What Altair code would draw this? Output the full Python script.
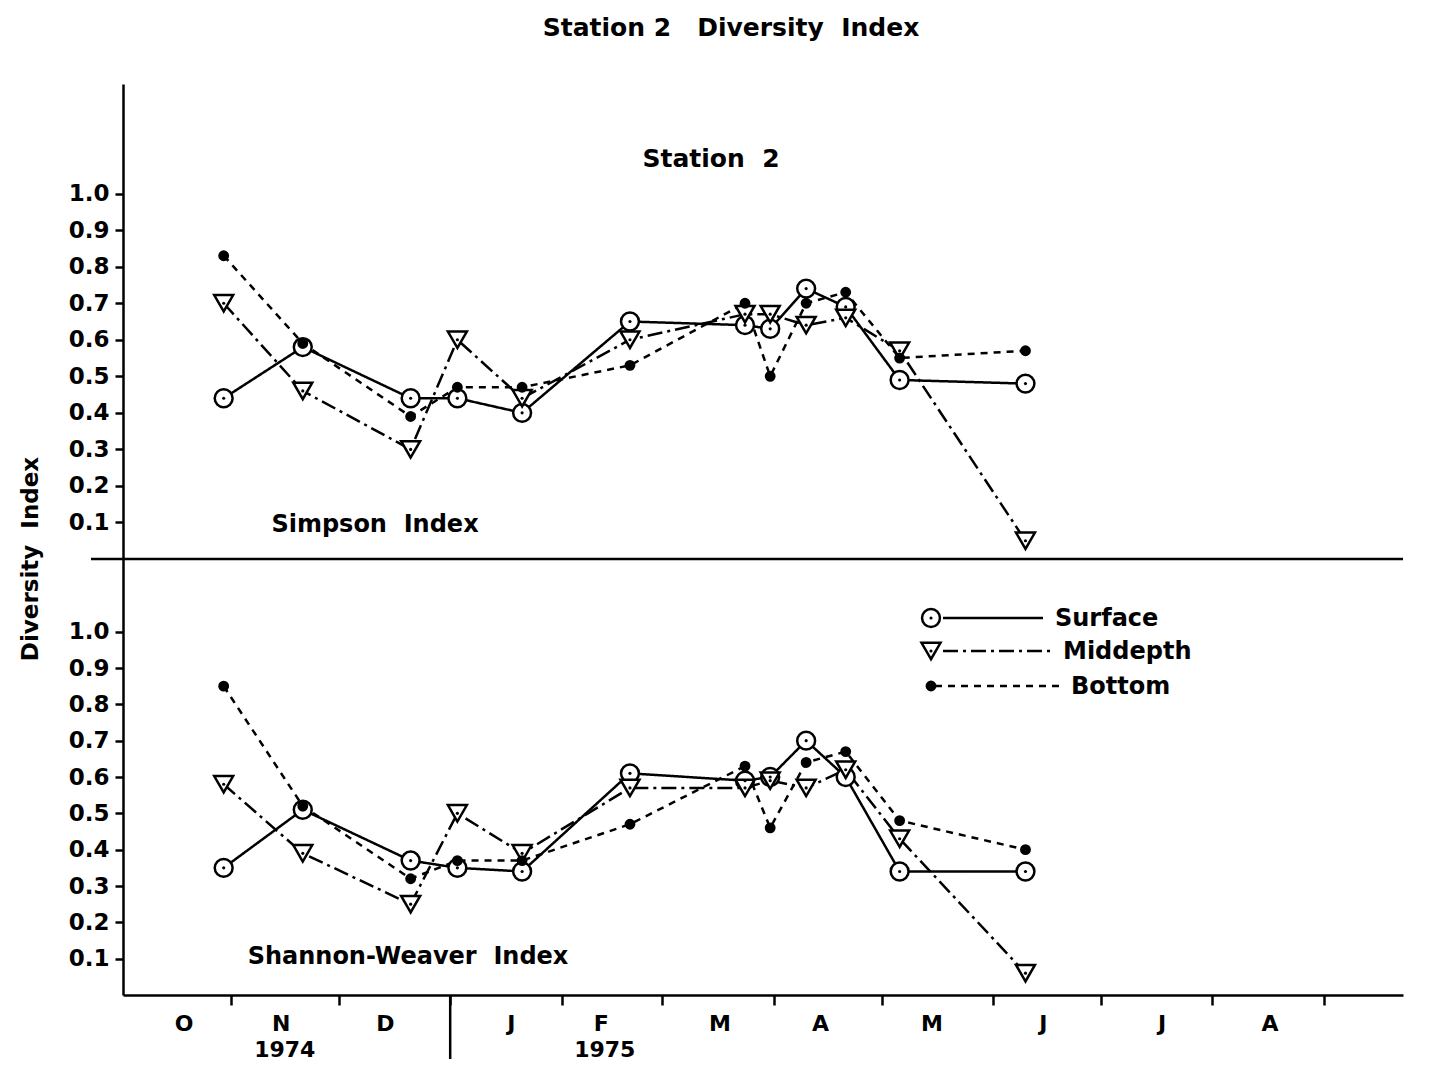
import altair as alt
import pandas as pd

# ---------------- data ----------------
dates = ["1974-10-30", "1974-11-21", "1974-12-21", "1975-01-03", "1975-01-21",
         "1975-02-20", "1975-03-24", "1975-03-31", "1975-04-10", "1975-04-21",
         "1975-05-06", "1975-06-10"]
series_names = ["Surface", "Middepth", "Bottom"]

simpson_surface = [0.44, 0.58, 0.44, 0.44, 0.40, 0.65, 0.64, 0.63, 0.74, 0.69, 0.49, 0.48]
simpson_middepth = [0.70, 0.46, 0.30, 0.60, 0.44, 0.60, 0.67, 0.67, 0.64, 0.66, 0.57, 0.05]
simpson_bottom = [0.83, 0.59, 0.39, 0.47, 0.47, 0.53, 0.70, 0.50, 0.70, 0.73, 0.55, 0.57]

shannon_surface = [0.35, 0.51, 0.37, 0.35, 0.34, 0.61, 0.59, 0.60, 0.70, 0.60, 0.34, 0.34]
shannon_middepth = [0.58, 0.39, 0.25, 0.50, 0.39, 0.57, 0.57, 0.59, 0.57, 0.62, 0.43, 0.06]
shannon_bottom = [0.85, 0.52, 0.32, 0.37, 0.37, 0.47, 0.63, 0.46, 0.64, 0.67, 0.48, 0.40]

y_tick_values = [0.1, 0.2, 0.3, 0.4, 0.5, 0.6, 0.7, 0.8, 0.9, 1.0]
month_labels = ["O", "N", "D", "J", "F", "M", "A", "M", "J", "J", "A"]
month_label_dates = ["1974-10-19", "1974-11-15", "1974-12-14", "1975-01-18", "1975-02-12",
                     "1975-03-17", "1975-04-14", "1975-05-15", "1975-06-15", "1975-07-18",
                     "1975-08-17"]
month_tick_dates = [(1974, 11), (1974, 12), (1975, 1), (1975, 2), (1975, 3), (1975, 4),
                    (1975, 5), (1975, 6), (1975, 7), (1975, 8), (1975, 9)]
year_labels = ["1974", "1975"]
year_label_dates = ["1974-11-16", "1975-02-13"]
year_break_date = ["1975-01-01"]

# ---------------- styling ----------------
FONT = "DejaVu Sans"
WEIGHT = "bold"
W = 1280
H_TOP = 475
H_BOT = 436
LW = 2.5
DASH = {"Surface": [1, 0], "Middepth": [15, 5, 3, 5], "Bottom": [7, 6]}
MARK = {
    "Surface": dict(shape="circle", size=320, fill="white"),
    "Middepth": dict(shape="triangle-down", size=360, fill="white"),
    "Bottom": dict(shape="circle", size=70, fill="black"),
}

x_scale = alt.Scale(domain=[alt.DateTime(year=1974, month=10, date=2),
                            alt.DateTime(year=1975, month=9, date=23)])


def long_df(vals):
    rows = []
    for name, v in zip(series_names, vals):
        for d, y in zip(dates, v):
            rows.append({"date": pd.Timestamp(d), "value": y, "series": name})
    return pd.DataFrame(rows)


def y_axis():
    return alt.Axis(values=y_tick_values, format=".1f", labelFontSize=23, labelFont=FONT,
                    labelFontWeight=WEIGHT,
                    labelColor="black", tickSize=8, tickWidth=LW, tickColor="black",
                    domainWidth=LW, domainColor="black", labelPadding=6, grid=False,
                    title=None)


def text_layer(t, x, y, size=25, angle=0, align="center"):
    return alt.Chart(pd.DataFrame({"t": [t]})).mark_text(
        font=FONT, fontSize=size, fontWeight=WEIGHT, color="black", angle=angle,
        align=align, baseline="middle").encode(x=alt.value(x), y=alt.value(y), text="t:N")


def data_layers(df, x_axis, y_max):
    base = alt.Chart(df).encode(
        x=alt.X("date:T", scale=x_scale, axis=x_axis),
        y=alt.Y("value:Q", scale=alt.Scale(domain=[0, y_max], nice=False), axis=y_axis()),
    )
    lines = base.mark_line(color="black", strokeWidth=LW).encode(
        strokeDash=alt.StrokeDash("series:N", scale=alt.Scale(
            domain=series_names, range=[DASH[s] for s in series_names]), legend=None),
        detail="series:N",
    )
    layers = [lines]
    for s in ["Surface", "Middepth", "Bottom"]:
        m = MARK[s]
        layers.append(base.transform_filter(alt.datum.series == s).mark_point(
            shape=m["shape"], size=m["size"], filled=True, fill=m["fill"], fillOpacity=1,
            stroke="black", strokeWidth=LW, opacity=1))
    layers.append(base.transform_filter(alt.datum.series != "Bottom").mark_point(
        shape="circle", size=10, filled=True, fill="black", opacity=1))
    return layers


# ---------------- top panel: Simpson ----------------
df_top = long_df([simpson_surface, simpson_middepth, simpson_bottom])
top_layers = data_layers(df_top, None, 1.3)
sep = alt.Chart(pd.DataFrame({"a": [0]})).mark_rule(color="black", strokeWidth=LW).encode(
    x=alt.value(-32), x2=alt.value(W), y=alt.value(H_TOP))
top = alt.layer(
    *top_layers, sep,
    text_layer("Station\u00a02\u00a0\u00a0\u00a0Diversity\u00a0\u00a0Index", 608, -56, 25),
    text_layer("Station\u00a0\u00a02", 588, 75, 25),
    text_layer("Simpson\u00a0\u00a0Index", 252, 441, 24),
    text_layer("Diversity\u00a0\u00a0Index", -92, H_TOP, 23, angle=270),
).properties(width=W, height=H_TOP)

# ---------------- bottom panel: Shannon-Weaver ----------------
df_bot = long_df([shannon_surface, shannon_middepth, shannon_bottom])
bx_axis = alt.Axis(values=[alt.DateTime(year=y, month=m, date=1) for y, m in month_tick_dates],
                   labels=False, tickSize=10, tickWidth=LW, tickColor="black",
                   domainWidth=LW, domainColor="black", grid=False, title=None)
bot_layers = data_layers(df_bot, bx_axis, 1.2)

months_df = pd.DataFrame({"date": pd.to_datetime(month_label_dates), "lab": month_labels})
month_text = alt.Chart(months_df).mark_text(font=FONT, fontSize=22, fontWeight=WEIGHT,
                                            color="black", baseline="middle").encode(
    x=alt.X("date:T", scale=x_scale), y=alt.value(H_BOT + 29), text="lab:N")
years_df = pd.DataFrame({"date": pd.to_datetime(year_label_dates), "lab": year_labels})
year_text = alt.Chart(years_df).mark_text(font=FONT, fontSize=22, fontWeight=WEIGHT,
                                          color="black", baseline="middle").encode(
    x=alt.X("date:T", scale=x_scale), y=alt.value(H_BOT + 55), text="lab:N")
break_df = pd.DataFrame({"date": pd.to_datetime(year_break_date)})
year_break = alt.Chart(break_df).mark_rule(color="black", strokeWidth=LW).encode(
    x=alt.X("date:T", scale=x_scale), y=alt.value(H_BOT), y2=alt.value(H_BOT + 64))

legend_layers = []
leg_rows = [("Surface", 59, 820, 920, 932), ("Middepth", 92, 820, 930, 940),
            ("Bottom", 127, 812, 940, 948)]
one = pd.DataFrame({"a": [0]})
for s, ly, lx1, lx2, tx in leg_rows:
    m = MARK[s]
    legend_layers.append(alt.Chart(one).mark_rule(
        color="black", strokeWidth=LW, strokeDash=DASH[s]).encode(
        x=alt.value(lx1), x2=alt.value(lx2), y=alt.value(ly)))
    legend_layers.append(alt.Chart(one).mark_point(
        shape=m["shape"], size=m["size"], filled=True, fill=m["fill"], fillOpacity=1,
        stroke="black", strokeWidth=LW, opacity=1).encode(x=alt.value(808), y=alt.value(ly)))
    if s != "Bottom":
        legend_layers.append(alt.Chart(one).mark_point(
            shape="circle", size=10, filled=True, fill="black", opacity=1).encode(
            x=alt.value(808), y=alt.value(ly)))
    legend_layers.append(text_layer(s, tx, ly + 1, 24, align="left"))

bottom = alt.layer(
    *bot_layers, month_text, year_text, year_break, *legend_layers,
    text_layer("Shannon-Weaver\u00a0\u00a0Index", 285, 398, 24),
).properties(width=W, height=H_BOT)

chart = alt.vconcat(top, bottom, spacing=0, bounds="flush").properties(
    padding={"left": 12, "top": 8, "right": 0, "bottom": 0}
).configure(font=FONT, background="white").configure_view(strokeWidth=0, strokeOpacity=0)

chart.save("out.html", embed_options={"renderer": "svg", "actions": False})
